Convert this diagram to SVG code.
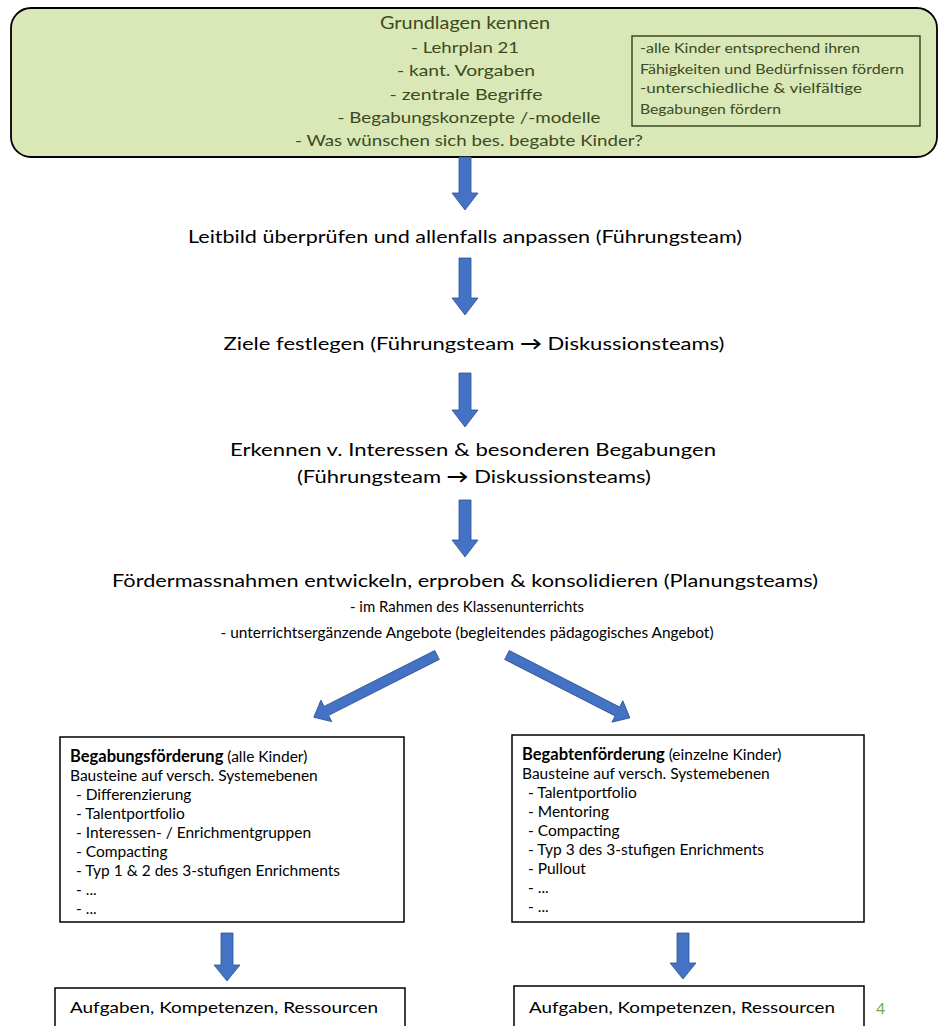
<svg xmlns="http://www.w3.org/2000/svg" width="940" height="1026" viewBox="0 0 940 1026">
  <style>
    .t { font-family: Lato, "Open Sans", "Liberation Sans", sans-serif; fill: #000; }
    .g { font-family: Lato, "Open Sans", "Liberation Sans", sans-serif; fill: #3c4a22; }
    .box { fill: #fff; stroke: #000; stroke-width: 1.5; }
    .arr { fill: #4472c4; stroke: #2f528f; stroke-width: 0.8; }
    .b { font-weight: bold; }
    .li { font-size: 15.5px; }
  </style>
  <defs>
    <!-- horizontal block arrow, 138 long, pointing +x -->
    <path id="diagArrow" d="M0,-5 L124,-5 L124,-12 L138,0 L124,12 L124,5 L0,5 Z"/>
  </defs>

  <!-- top: fundamentals -->
  <g id="grundlagen">
    <rect x="11" y="8" width="926" height="149" rx="20" ry="20" fill="#d9e8b6" stroke="#000" stroke-width="1.8"/>
    <text class="g" x="465" y="29" font-size="17" text-anchor="middle" textLength="170" lengthAdjust="spacingAndGlyphs">Grundlagen kennen</text>
    <text class="g" x="465" y="53" font-size="16" text-anchor="middle" textLength="108" lengthAdjust="spacingAndGlyphs">- Lehrplan 21</text>
    <text class="g" x="466" y="76" font-size="16" text-anchor="middle" textLength="138" lengthAdjust="spacingAndGlyphs">- kant. Vorgaben</text>
    <text class="g" x="466" y="100" font-size="16" text-anchor="middle" textLength="153" lengthAdjust="spacingAndGlyphs">- zentrale Begriffe</text>
    <text class="g" x="469" y="123" font-size="16" text-anchor="middle" textLength="263" lengthAdjust="spacingAndGlyphs">- Begabungskonzepte /-modelle</text>
    <text class="g" x="469" y="146" font-size="16" text-anchor="middle" textLength="348" lengthAdjust="spacingAndGlyphs">- Was wünschen sich bes. begabte Kinder?</text>
  </g>
  <g id="leitsaetze">
    <rect x="632" y="36" width="288" height="90" fill="none" stroke="#3c4a22" stroke-width="1.5"/>
    <text class="g" x="640" y="53" font-size="13" textLength="220" lengthAdjust="spacingAndGlyphs">-alle Kinder entsprechend ihren</text>
    <text class="g" x="640" y="74" font-size="13" textLength="264" lengthAdjust="spacingAndGlyphs">Fähigkeiten und Bedürfnissen fördern</text>
    <text class="g" x="640" y="93" font-size="13" textLength="222" lengthAdjust="spacingAndGlyphs">-unterschiedliche &amp; vielfältige</text>
    <text class="g" x="640" y="114" font-size="13" textLength="141" lengthAdjust="spacingAndGlyphs">Begabungen fördern</text>
  </g>

  <!-- process steps -->
  <g id="leitbild">
    <text class="t" x="465" y="243" font-size="18" text-anchor="middle" textLength="554" lengthAdjust="spacingAndGlyphs">Leitbild überprüfen und allenfalls anpassen (Führungsteam)</text>
  </g>
  <g id="ziele">
    <text class="t" x="474" y="350" font-size="18" text-anchor="middle" textLength="501" lengthAdjust="spacingAndGlyphs">Ziele festlegen (Führungsteam <tspan class="b">→</tspan> Diskussionsteams)</text>
  </g>
  <g id="erkennen">
    <text class="t" x="473" y="456" font-size="18" text-anchor="middle" textLength="486" lengthAdjust="spacingAndGlyphs">Erkennen v. Interessen &amp; besonderen Begabungen</text>
    <text class="t" x="474" y="483" font-size="18" text-anchor="middle" textLength="354" lengthAdjust="spacingAndGlyphs">(Führungsteam <tspan class="b">→</tspan> Diskussionsteams)</text>
  </g>
  <g id="foerdermassnahmen">
    <text class="t" x="465" y="587" font-size="18" text-anchor="middle" textLength="706" lengthAdjust="spacingAndGlyphs">Fördermassnahmen entwickeln, erproben &amp; konsolidieren (Planungsteams)</text>
    <text class="t" x="467" y="612" font-size="15" text-anchor="middle" textLength="234" lengthAdjust="spacingAndGlyphs">- im Rahmen des Klassenunterrichts</text>
    <text class="t" x="467" y="638" font-size="15" text-anchor="middle" textLength="493" lengthAdjust="spacingAndGlyphs">- unterrichtsergänzende Angebote (begleitendes pädagogisches Angebot)</text>
  </g>

  <!-- two branches -->
  <g id="begabungsfoerderung">
    <rect class="box" x="60" y="737" width="344" height="185"/>
    <text class="t li" x="70" y="762"><tspan class="b" font-size="16.5">Begabungsförderung</tspan> (alle Kinder)</text>
    <text class="t li" x="70" y="781">Bausteine auf versch. Systemebenen</text>
    <text class="t li" x="76" y="800">-  Differenzierung</text>
    <text class="t li" x="76" y="819">-  Talentportfolio</text>
    <text class="t li" x="76" y="838">-  Interessen- / Enrichmentgruppen</text>
    <text class="t li" x="76" y="857">-  Compacting</text>
    <text class="t li" x="76" y="876">-  Typ 1 &amp; 2 des 3-stufigen Enrichments</text>
    <text class="t li" x="76" y="895">-  ...</text>
    <text class="t li" x="76" y="914">-  ...</text>
  </g>
  <g id="begabtenfoerderung">
    <rect class="box" x="512" y="735" width="352" height="187"/>
    <text class="t li" x="522" y="760"><tspan class="b" font-size="16.5">Begabtenförderung</tspan> (einzelne Kinder)</text>
    <text class="t li" x="522" y="779">Bausteine auf versch. Systemebenen</text>
    <text class="t li" x="528" y="798">-  Talentportfolio</text>
    <text class="t li" x="528" y="817">-  Mentoring</text>
    <text class="t li" x="528" y="836">-  Compacting</text>
    <text class="t li" x="528" y="855">-  Typ 3 des 3-stufigen Enrichments</text>
    <text class="t li" x="528" y="874">-  Pullout</text>
    <text class="t li" x="528" y="893">-  ...</text>
    <text class="t li" x="528" y="912">-  ...</text>
  </g>

  <!-- resources -->
  <g id="ressourcen-links">
    <rect class="box" x="55" y="988" width="350" height="40"/>
    <text class="t" x="70" y="1013" font-size="16" textLength="308" lengthAdjust="spacingAndGlyphs">Aufgaben, Kompetenzen, Ressourcen</text>
  </g>
  <g id="ressourcen-rechts">
    <rect class="box" x="514" y="986" width="350" height="42"/>
    <text class="t" x="529" y="1013" font-size="16" textLength="306" lengthAdjust="spacingAndGlyphs">Aufgaben, Kompetenzen, Ressourcen</text>
  </g>
  <text x="876" y="1014" font-family="Lato, 'Liberation Sans', sans-serif" font-size="16" fill="#70ad47">4</text>

  <!-- connectors -->
  <g id="connectors">
    <path class="arr" d="M459,157 L471,157 L471,193 L478,193 L465,210 L452,193 L459,193 Z"/>
    <path class="arr" d="M459,258 L471,258 L471,298 L478,298 L465,315 L452,298 L459,298 Z"/>
    <path class="arr" d="M459,373 L471,373 L471,410 L478,410 L465,427 L452,410 L459,410 Z"/>
    <path class="arr" d="M459,500 L471,500 L471,540 L478,540 L465,557 L452,540 L459,540 Z"/>
    <use href="#diagArrow" class="arr" transform="translate(437,655) rotate(153.2)"/>
    <use href="#diagArrow" class="arr" transform="translate(507,655) rotate(27.1)"/>
    <path class="arr" d="M221,933 L233,933 L233,965 L240,965 L227,981 L214,965 L221,965 Z"/>
    <path class="arr" d="M677,933 L689,933 L689,963 L696,963 L683,979 L670,963 L677,963 Z"/>
  </g>
</svg>
